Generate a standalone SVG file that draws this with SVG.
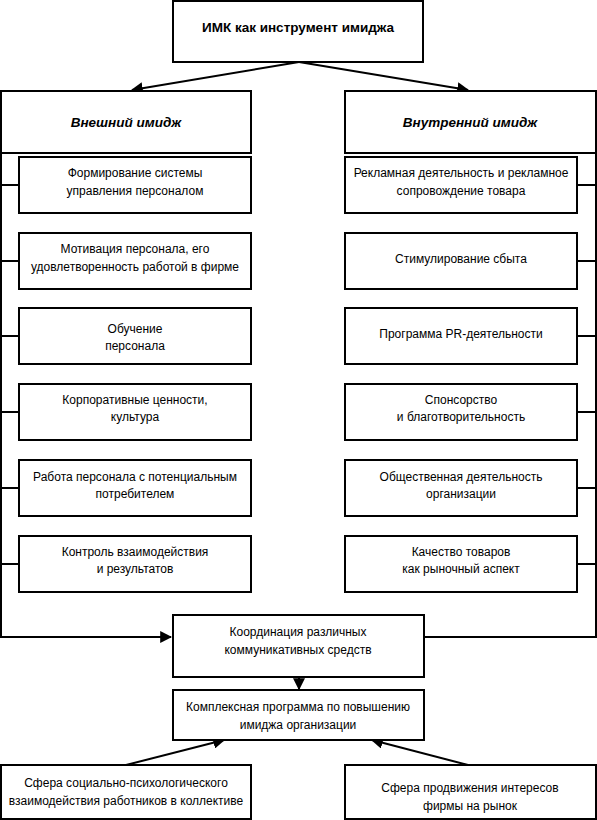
<svg xmlns="http://www.w3.org/2000/svg" width="597" height="820" viewBox="0 0 597 820">
<style>
.b{fill:#fff;stroke:#000;stroke-width:2}
.t{font-family:"Liberation Sans",Arial,sans-serif;font-size:12px;fill:#000;text-anchor:middle}
.h{font-family:"Liberation Sans",Arial,sans-serif;font-size:13.5px;font-weight:bold;fill:#000;text-anchor:middle}
.hi{font-style:italic}
.c{fill:none;stroke:#000;stroke-width:2}
</style>
<defs>
<marker id="a" viewBox="0 0 10 10" refX="9" refY="5" markerWidth="6" markerHeight="6" orient="auto" markerUnits="strokeWidth">
<path d="M0,0 L10,5 L0,10 z" fill="#000"/>
</marker>
</defs>
<g id="connectors">
<line class="c" x1="299" y1="62" x2="132" y2="90" marker-end="url(#a)"/>
<line class="c" x1="299" y1="62" x2="468" y2="90" marker-end="url(#a)"/>
<polyline class="c" points="1,153 1,637 171,637" marker-end="url(#a)"/>
<polyline class="c" points="596,153 596,637 424,637"/>
<line class="c" x1="1" y1="185" x2="19" y2="185"/>
<line class="c" x1="1" y1="261" x2="19" y2="261"/>
<line class="c" x1="1" y1="336" x2="19" y2="336"/>
<line class="c" x1="1" y1="412" x2="19" y2="412"/>
<line class="c" x1="1" y1="488" x2="19" y2="488"/>
<line class="c" x1="1" y1="564" x2="19" y2="564"/>
<line class="c" x1="577" y1="185" x2="596" y2="185"/>
<line class="c" x1="577" y1="261" x2="596" y2="261"/>
<line class="c" x1="577" y1="336" x2="596" y2="336"/>
<line class="c" x1="577" y1="412" x2="596" y2="412"/>
<line class="c" x1="577" y1="488" x2="596" y2="488"/>
<line class="c" x1="577" y1="564" x2="596" y2="564"/>
<line class="c" x1="299" y1="677" x2="299" y2="689" marker-end="url(#a)"/>
<line class="c" x1="126" y1="765" x2="224" y2="740" marker-end="url(#a)"/>
<line class="c" x1="468" y1="765" x2="372" y2="740" marker-end="url(#a)"/>
</g>
<g id="top"><rect class="b" x="173" y="1" width="250" height="61"/><text class="h" x="298" y="32">ИМК как инструмент имиджа</text></g>
<g id="ext"><rect class="b" x="1" y="91" width="250" height="62"/><text class="h hi" x="126" y="127">Внешний имидж</text></g>
<g id="int"><rect class="b" x="345" y="91" width="251" height="62"/><text class="h hi" x="470" y="127">Внутренний имидж</text></g>
<g id="l1"><rect class="b" x="19" y="157" width="232" height="56"/><text class="t" x="135" y="177">Формирование системы</text><text class="t" x="135" y="195">управления персоналом</text></g>
<g id="l2"><rect class="b" x="19" y="233" width="232" height="56"/><text class="t" x="135" y="253">Мотивация персонала, его</text><text class="t" x="135" y="271">удовлетворенность работой в фирме</text></g>
<g id="l3"><rect class="b" x="19" y="308" width="232" height="56"/><text class="t" x="135" y="333">Обучение</text><text class="t" x="135" y="350">персонала</text></g>
<g id="l4"><rect class="b" x="19" y="384" width="232" height="56"/><text class="t" x="135" y="404">Корпоративные ценности,</text><text class="t" x="135" y="421">культура</text></g>
<g id="l5"><rect class="b" x="19" y="460" width="232" height="56"/><text class="t" x="135" y="481">Работа персонала с потенциальным</text><text class="t" x="135" y="498">потребителем</text></g>
<g id="l6"><rect class="b" x="19" y="536" width="232" height="56"/><text class="t" x="135" y="556">Контроль взаимодействия</text><text class="t" x="135" y="573">и результатов</text></g>
<g id="r1"><rect class="b" x="345" y="157" width="232" height="56"/><text class="t" x="461" y="177">Рекламная деятельность и рекламное</text><text class="t" x="461" y="195">сопровождение товара</text></g>
<g id="r2"><rect class="b" x="345" y="233" width="232" height="56"/><text class="t" x="461" y="263">Стимулирование сбыта</text></g>
<g id="r3"><rect class="b" x="345" y="308" width="232" height="56"/><text class="t" x="461" y="338">Программа PR-деятельности</text></g>
<g id="r4"><rect class="b" x="345" y="384" width="232" height="56"/><text class="t" x="461" y="404">Спонсорство</text><text class="t" x="461" y="421">и благотворительность</text></g>
<g id="r5"><rect class="b" x="345" y="460" width="232" height="56"/><text class="t" x="461" y="481">Общественная деятельность</text><text class="t" x="461" y="498">организации</text></g>
<g id="r6"><rect class="b" x="345" y="536" width="232" height="56"/><text class="t" x="461" y="556">Качество товаров</text><text class="t" x="461" y="573">как рыночный аспект</text></g>
<g id="coord"><rect class="b" x="173" y="615" width="251" height="62"/><text class="t" x="298" y="636">Координация  различных</text><text class="t" x="298" y="654">коммуникативных средств</text></g>
<g id="complex"><rect class="b" x="173" y="690" width="251" height="50"/><text class="t" x="298" y="711">Комплексная программа по повышению</text><text class="t" x="298" y="729">имиджа организации</text></g>
<g id="social"><rect class="b" x="1" y="765" width="250" height="54"/><text class="t" x="126" y="787">Сфера  социально-психологического</text><text class="t" x="126" y="805">взаимодействия работников в коллективе</text></g>
<g id="market"><rect class="b" x="345" y="765" width="251" height="54"/><text class="t" x="470" y="792">Сфера продвижения интересов</text><text class="t" x="470" y="810">фирмы на рынок</text></g>
</svg>
